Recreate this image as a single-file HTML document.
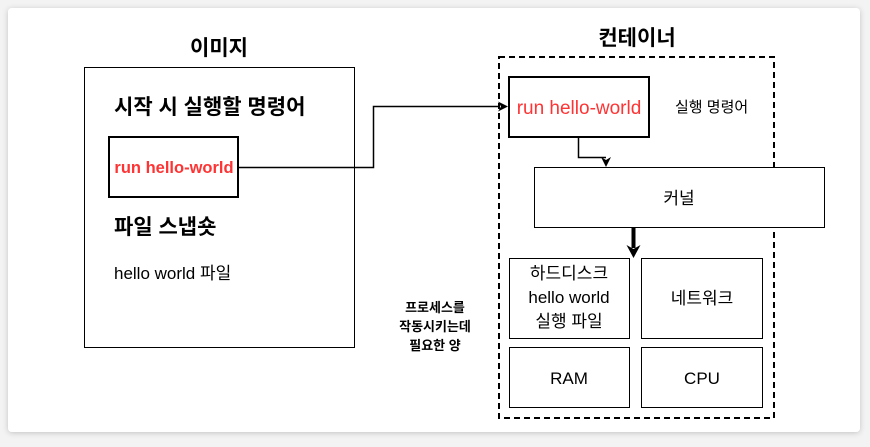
<!DOCTYPE html>
<html><head><meta charset="utf-8"><style>
body{margin:0;background:#f3f3f3;}
svg text{font-family:"Liberation Sans","Noto Sans CJK KR",sans-serif;}
</style></head><body>
<svg width="870" height="442" xmlns="http://www.w3.org/2000/svg">
<defs><filter id="s" x="-5%" y="-5%" width="110%" height="110%"><feDropShadow dx="0" dy="1" stdDeviation="3" flood-opacity="0.2"/></filter></defs>
<rect x="8" y="8" width="852" height="424" rx="4" fill="#fff" filter="url(#s)"/>
<text x="219" y="55" font-size="21" font-weight="bold" text-anchor="middle">이미지</text>
<rect x="84.5" y="67.5" width="270" height="280" fill="none" stroke="#000"/>
<text x="114" y="114" font-size="21" font-weight="bold">시작 시 실행할 명령어</text>
<rect x="109" y="137" width="129" height="60" fill="none" stroke="#000" stroke-width="2"/>
<text x="174" y="173" font-size="16.5" font-weight="bold" fill="#ff3333" text-anchor="middle">run hello-world</text>
<text x="114" y="234" font-size="21" font-weight="bold">파일 스냅숏</text>
<text x="114" y="279" font-size="17">hello world 파일</text>
<path d="M238 167.5H373.5V106.5H500" fill="none" stroke="#000" stroke-width="1.5"/>
<path d="M508 106.5l-10 -5 3 5 -3 5z" fill="#000"/>
<text x="637" y="45" font-size="21" font-weight="bold" text-anchor="middle">컨테이너</text>
<rect x="499" y="57" width="275" height="361" fill="none" stroke="#000" stroke-width="2" stroke-dasharray="6,4"/>
<rect x="509" y="77" width="140" height="60" fill="#fff" stroke="#000" stroke-width="2"/>
<text x="579" y="114" font-size="19" fill="#ff3333" text-anchor="middle">run hello-world</text>
<text x="675" y="112" font-size="15">실행 명령어</text>
<path d="M578.5 137V157.5H606" fill="none" stroke="#000" stroke-width="1.5"/>
<path d="M606 167l-5 -10 5 3 5 -3z" fill="#000"/>
<rect x="534.5" y="167.5" width="290" height="60" fill="#fff" stroke="#000"/>
<text x="679" y="204" font-size="17" text-anchor="middle">커널</text>
<path d="M633.5 228V248" stroke="#000" stroke-width="4"/>
<path d="M633.5 258l-7 -13 7 4 7 -4z" fill="#000"/>
<rect x="509.5" y="258.5" width="120" height="80" fill="#fff" stroke="#000"/>
<text x="569" y="279" font-size="17" text-anchor="middle">하드디스크</text>
<text x="569" y="303" font-size="17" text-anchor="middle">hello world</text>
<text x="569" y="327" font-size="17" text-anchor="middle">실행 파일</text>
<rect x="641.5" y="258.5" width="121" height="80" fill="#fff" stroke="#000"/>
<text x="702" y="304" font-size="17" text-anchor="middle">네트워크</text>
<rect x="509.5" y="347.5" width="120" height="60" fill="#fff" stroke="#000"/>
<text x="569" y="384" font-size="17" text-anchor="middle">RAM</text>
<rect x="641.5" y="347.5" width="121" height="60" fill="#fff" stroke="#000"/>
<text x="702" y="384" font-size="17" text-anchor="middle">CPU</text>
<text x="435" y="312" font-size="13" font-weight="bold" text-anchor="middle">프로세스를</text>
<text x="435" y="331" font-size="13" font-weight="bold" text-anchor="middle">작동시키는데</text>
<text x="435" y="350" font-size="13" font-weight="bold" text-anchor="middle">필요한 양</text>
</svg>
</body></html>
